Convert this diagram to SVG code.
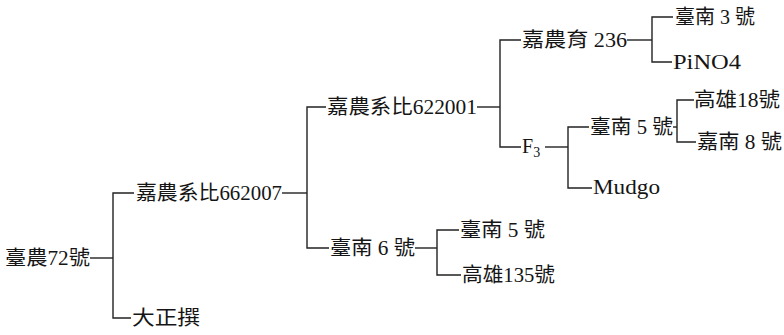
<svg xmlns="http://www.w3.org/2000/svg" width="784" height="335" viewBox="0 0 784 335">
<style>
text{font-family:"Liberation Serif","Noto Sans CJK TC",serif;font-size:20px;fill:#151515;}
.ln{fill:none;stroke:#222222;stroke-width:1.4;}
</style>
<rect width="784" height="335" fill="#ffffff"/>
<g id="connectors" class="ln">
<path d="M90,258 H113"/>
<path d="M134,193 H113 V318 H131"/>
<path d="M282,193 H307"/>
<path d="M326,107 H307 V248 H329"/>
<path d="M477,107 H500"/>
<path d="M521,40 H500 V147 H521"/>
<path d="M627,40 H652"/>
<path d="M673,17 H652 V62 H672"/>
<path d="M545,147 H568"/>
<path d="M589,127 H568 V188 H592"/>
<path d="M673,127 H677"/>
<path d="M694,100 H677 V142 H696"/>
<path d="M415,248 H437"/>
<path d="M459,230 H437 V275 H461"/>
</g>
<g id="n1"><text x="5" y="265" textLength="85" lengthAdjust="spacingAndGlyphs">臺農72號</text></g>
<g id="n2"><text x="136" y="200" textLength="146" lengthAdjust="spacingAndGlyphs">嘉農系比662007</text></g>
<g id="n3"><text x="132" y="325" textLength="68" lengthAdjust="spacingAndGlyphs">大正撰</text></g>
<g id="n4"><text x="327" y="114" textLength="150" lengthAdjust="spacingAndGlyphs">嘉農系比622001</text></g>
<g id="n5"><text x="330" y="255" textLength="85" lengthAdjust="spacingAndGlyphs">臺南 6 號</text></g>
<g id="n6"><text x="522" y="47" textLength="105" lengthAdjust="spacingAndGlyphs">嘉農育 236</text></g>
<g id="n7"><text x="522" y="153" font-size="21">F<tspan font-size="14" dy="4">3</tspan></text></g>
<g id="n8"><text x="675" y="24" textLength="80" lengthAdjust="spacingAndGlyphs">臺南 3 號</text></g>
<g id="n9"><text x="673" y="69" textLength="68" lengthAdjust="spacingAndGlyphs">PiNO4</text></g>
<g id="n10"><text x="590" y="134" textLength="83" lengthAdjust="spacingAndGlyphs">臺南 5 號</text></g>
<g id="n11"><text x="593" y="194" textLength="67" lengthAdjust="spacingAndGlyphs">Mudgo</text></g>
<g id="n12"><text x="694" y="107" textLength="86" lengthAdjust="spacingAndGlyphs">高雄18號</text></g>
<g id="n13"><text x="697" y="149" textLength="85" lengthAdjust="spacingAndGlyphs">嘉南 8 號</text></g>
<g id="n14"><text x="460" y="237" textLength="85" lengthAdjust="spacingAndGlyphs">臺南 5 號</text></g>
<g id="n15"><text x="462" y="282" textLength="93" lengthAdjust="spacingAndGlyphs">高雄135號</text></g>
</svg>
